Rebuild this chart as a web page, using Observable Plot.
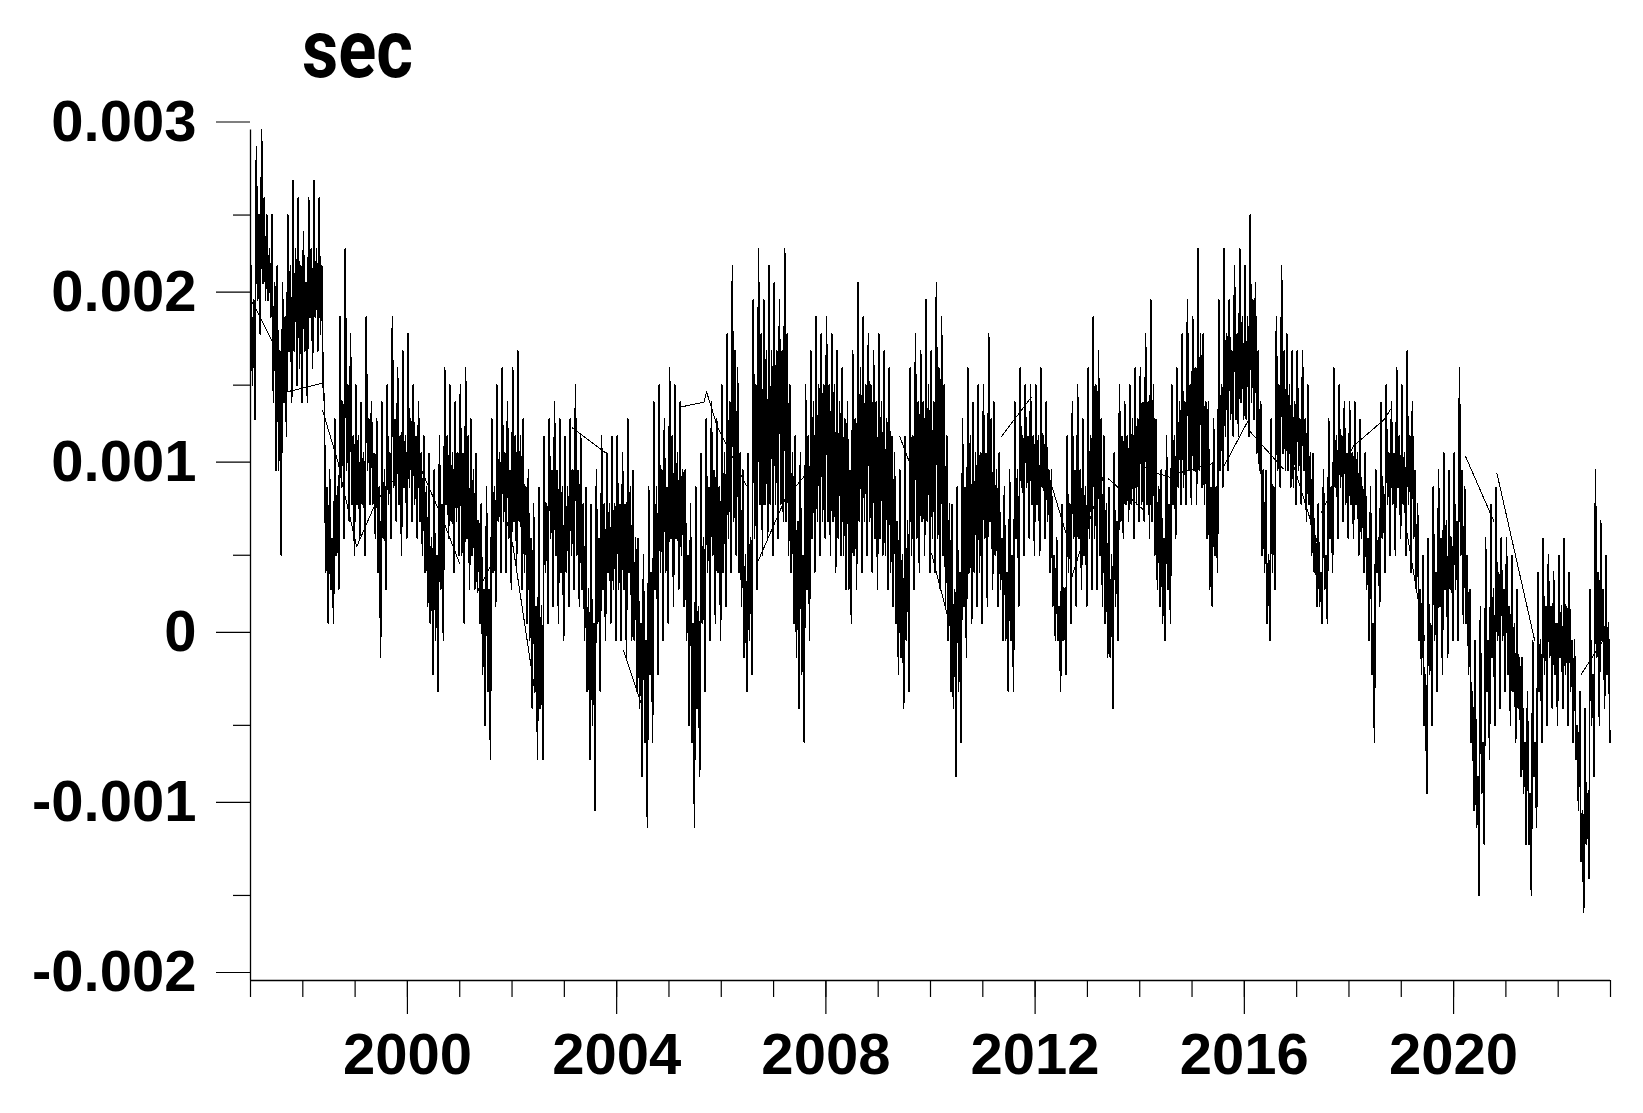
<!DOCTYPE html>
<html><head><meta charset="utf-8">
<script src="https://cdn.jsdelivr.net/npm/d3@7"></script>
<script src="https://cdn.jsdelivr.net/npm/@observablehq/plot@0.6"></script>
<style>
html,body{margin:0;padding:0;background:#fff;}
#wrap{position:relative;width:1643px;height:1113px;overflow:hidden;}
#title{position:absolute;left:302px;top:1px;font-family:Roboto,"Liberation Sans",sans-serif;font-weight:bold;font-size:82px;line-height:normal;color:#000;transform-origin:0 0;transform:scaleX(0.86);white-space:nowrap;}
#wrap svg .data path, #wrap svg .joins path{shape-rendering:crispEdges;}
</style></head><body><div id="wrap"><div id="title">sec</div></div>
<script>
// time grid of the readings: four readings per tenth of a year
const startYear = 1997;
const stepYears = 0.1;
// values in units of 1e-4 sec, 10 per year (1997 ... 2022)
// highest spike in each tenth of a year
const highs = [
 22,29,30,25,25,22,21,25,27,26,
 24,26,27,26,14,10,13,19,23,18,
 15,14,19,14,13,14,15,19,16,17,
 18,15,14,12,11,10,12,16,15,14,
 15,16,13,11,8,9,13,15,16,14,
 16,17,13,10,8,9,12,13,14,13,
 12,13,15,12,9,8,10,12,11,12,
 12,11,13,10,6,5,9,14,15,13,
 16,15,14,10,8,9,11,13,14,13,
 15,18,22,16,10,11,20,23,20,22,
 21,20,23,15,12,11,15,17,19,18,
 19,18,17,16,14,17,21,19,18,17,
 18,17,16,11,10,12,16,18,17,20,
 17,21,19,12,8,9,13,16,14,15,
 15,18,14,11,9,10,14,16,15,15,
 15,16,14,10,6,8,12,14,15,13,
 16,19,17,12,9,11,15,14,15,16,
 16,18,20,13,10,12,15,16,18,20,
 19,23,18,14,13,20,23,20,22,23,
 22,25,21,14,10,13,19,22,18,17,
 17,17,15,11,8,10,13,16,15,14,
 14,14,13,11,9,10,14,15,14,16,
 15,17,14,8,5,6,9,10,11,10,
 11,16,9,3,0,2,6,8,9,6,
 6,5,3,-1,-3,0,4,6,5,4,
 5,6,4,0,-3,-4,3,10,7,5
];
// lowest spike in each tenth of a year
const lows = [
 13,18,20,19,10,5,12,14,15,14,
 14,16,17,15,1,1,3,6,7,5,
 6,5,8,6,-1,3,6,7,5,6,
 7,6,5,2,-2,-3,0,6,4,5,
 1,3,3,1,-5,-7,2,4,4,3,
 4,3,1,-4,-7,-7,1,2,1,0,
 2,3,2,0,-7,-10,-3,0,1,0,
 0,-1,0,-3,-8,-11,-6,-2,0,1,
 2,3,2,-5,-11,-8,-3,0,1,0,
 2,4,5,2,-3,-2,3,5,6,5,
 6,7,5,1,-4,-6,0,4,5,6,
 5,4,5,3,1,3,4,5,4,3,
 5,3,2,-2,-4,-3,3,4,5,4,
 4,3,2,-3,-8,-6,-1,1,2,1,
 2,3,2,0,-3,-3,2,5,6,5,
 5,6,4,0,-3,-2,1,2,3,2,
 3,3,2,-1,-4,0,6,7,6,7,
 7,6,5,2,0,1,6,8,8,8,
 8,9,6,2,4,9,10,12,12,13,
 12,13,10,4,0,3,9,10,9,8,
 8,7,5,2,1,1,4,6,7,6,
 6,5,4,0,-6,2,4,5,5,6,
 5,4,3,-2,-9,-5,-3,-2,-1,0,
 0,1,-2,-10,-15,-12,-7,-5,-4,-3,
 -5,-6,-8,-12,-15,-11,-6,-5,-4,-5,
 -4,-5,-6,-10,-16,-14,-8,-5,-4,-6
];
// top of the dense band in each tenth of a year
const coreHighs = [
 20,25,26,23,21,17,19,22,23,22,
 21,23,23,22,9,6,9,14,15,12,
 12,11,13,11,9,10,11,13,12,12,
 13,12,11,9,6,5,8,12,11,11,
 11,12,10,7,3,3,9,11,11,10,
 12,12,9,6,2,2,8,10,10,9,
 9,10,10,8,3,1,6,8,8,8,
 8,8,9,6,1,0,4,9,10,9,
 12,11,10,5,1,2,6,9,10,9,
 11,14,17,11,5,6,15,18,17,17,
 17,17,18,11,7,5,12,14,15,15,
 15,15,14,13,10,13,16,15,15,14,
 14,13,12,7,5,7,12,14,14,15,
 14,16,15,8,3,4,9,12,11,11,
 11,13,10,6,4,5,10,12,12,12,
 12,12,10,5,2,3,8,10,10,9,
 12,15,13,8,5,7,12,12,13,13,
 14,14,15,9,6,8,12,14,14,15,
 16,18,14,9,9,15,18,17,18,19,
 19,20,17,10,5,9,15,17,15,14,
 13,13,11,6,4,5,9,12,12,11,
 11,11,9,6,1,6,9,11,11,12,
 11,12,10,3,-2,1,4,6,7,6,
 7,10,5,-3,-8,-6,0,3,4,3,
 2,1,-1,-6,-9,-6,0,2,2,1,
 2,2,0,-5,-10,-9,-2,4,3,1
];
// bottom of the dense band in each tenth of a year
const coreLows = [
 15,20,21,20,14,10,14,17,17,16,
 17,19,19,18,4,3,5,9,10,8,
 8,8,10,8,4,6,8,9,8,9,
 9,8,7,4,1,0,3,8,7,7,
 5,6,5,3,-2,-3,4,7,7,6,
 7,7,4,0,-3,-4,4,6,5,4,
 4,5,5,3,-3,-5,1,3,4,3,
 3,3,4,0,-4,-6,-2,3,4,4,
 6,6,5,0,-6,-4,1,4,5,4,
 4,6,7,4,-1,0,6,8,8,8,
 8,8,7,4,-1,-2,3,6,7,7,
 7,7,6,5,3,5,7,7,7,6,
 6,5,4,1,-1,0,5,6,7,7,
 6,6,5,0,-4,-3,2,4,4,4,
 6,7,5,3,0,0,6,9,9,8,
 8,9,7,2,0,0,4,6,6,5,
 6,6,5,1,-1,2,7,8,8,8,
 8,8,7,3,1,3,8,9,9,10,
 10,10,8,3,5,10,12,13,13,14,
 13,14,11,5,1,4,10,11,10,9,
 10,10,8,4,2,3,6,9,9,8,
 8,8,6,3,-2,4,6,8,8,9,
 8,8,6,0,-5,-2,0,2,3,3,
 3,5,1,-6,-11,-9,-3,-1,0,0,
 -2,-3,-4,-9,-12,-8,-3,-2,-1,-2,
 -1,-2,-3,-7,-13,-12,-5,-1,0,-2
];
// thin straight joins across data gaps (segment id, year, value in 1e-4 sec)
const joinSeg = [0,0,0,0,0,0, 1,1,1,1,1,1, 2,2,2,2,2, 3,3, 4,4,4, 5,5, 6,6, 7,7,7,7,7, 8,8,8, 9,9, 10,10,10, 11,11, 12,12, 13,13, 14,14, 15,15,15, 16,16, 17,17, 18,18, 19,19, 20,20, 21,21,21,21, 22,22, 23,23, 24,24, 25,25];
const joinYear = [1997.01,1997.17,1997.44,1997.57,1997.69,1998.36, 1998.38,1998.68,1998.77,1999.03,1999.41,1999.73, 1999.73,1999.92,2000.24,2000.65,2001.0, 2001.33,2001.64, 2001.9,2002.02,2002.44, 2003.15,2003.8, 2004.13,2004.48, 2005.2,2005.67,2005.72,2005.92,2006.48, 2006.71,2007.22,2007.63, 2009.41,2009.63, 2010.02,2010.47,2010.78, 2011.36,2011.93, 2012.15,2012.6, 2012.69,2013.33, 2013.4,2014.06, 2014.09,2014.35,2014.67, 2014.71,2015.4, 2015.62,2016.07, 2016.1,2016.74, 2016.77,2017.44, 2017.47,2017.66, 2017.82,2018.08,2018.68,2018.8, 2019.1,2019.45, 2020.23,2020.77, 2020.83,2021.55, 2022.44,2022.9];
const joinValue = [20.0,19.1,17.4,16.9,14.6,15.1, 13.5,10.4,9.0,5.5,8.2,9.4, 11.5,11.0,10.2,7.3,4.5, 2.8,4.7, 7.0,5.5,-3.1, 12.5,11.0, -0.6,-3.8, 13.7,14.0,14.6,12.6,9.1, 4.7,8.3,9.8, 12.0,10.2, 5.1,-0.3,5.0, 12.0,14.3, 10.8,6.2, 3.6,9.9, 9.5,7.7, 10.2,9.8,9.5, 9.8,10.4, 10.3,12.9, 12.3,10.1, 12.0,5.3, 7.5,8.7, 9.8,11.4,13.0,13.6, 6.5,0.0, 10.8,7.0, 9.8,0.0, -2.0,0.2];

const yTickValues = [-0.002,-0.001,0,0.001,0.002,0.003];
const yTickLabels = ["-0.002","-0.001","0","0.001","0.002","0.003"];
const yMinorTicks = [-0.0015,-0.0005,0.0005,0.0015,0.0025];
const xLabelYears = [2000,2004,2008,2012,2016,2020];
const xYearTicks = d3.range(1997, 2024);

const unit = 1e-4;
const series = [];
highs.forEach((h, i) => {
  const t0 = startYear + i * stepYears;
  series.push({t: t0 + stepYears * 0.125, v: h * unit});
  series.push({t: t0 + stepYears * 0.375, v: coreLows[i] * unit});
  series.push({t: t0 + stepYears * 0.625, v: coreHighs[i] * unit});
  series.push({t: t0 + stepYears * 0.875, v: lows[i] * unit});
});
const joins = joinYear.map((t, i) => ({t, v: joinValue[i] * unit, seg: joinSeg[i]}));

const font = "'Liberation Sans', Arial, sans-serif";
const chart = Plot.plot({
  width: 1643, height: 1113,
  marginLeft: 250, marginRight: 33, marginTop: 129.5, marginBottom: 133,
  x: {domain: [1997, 2023], label: null},
  y: {domain: [-0.002, 0.003], label: null},
  style: {background: "transparent", color: "#000", fontFamily: font, overflow: "visible"},
  marks: [
    Plot.line(series, {x: "t", y: "v", stroke: "#000", strokeWidth: 1.6, className: "data"}),
    Plot.line(joins, {x: "t", y: "v", z: "seg", stroke: "#000", strokeWidth: 1, className: "joins"}),
    Plot.ruleX([1997], {y1: -0.002, y2: 0.003, stroke: "#000", strokeWidth: 1.3}),
    Plot.ruleY([-0.002], {x1: 1997, x2: 2023, stroke: "#000", strokeWidth: 1.3}),
    Plot.axisY(yTickValues, {tickSize: 34, tickPadding: 20, tickFormat: d => yTickLabels[yTickValues.indexOf(d)], fontSize: 58, fontWeight: "bold", dy: -8, label: null, strokeWidth: 1.2}),
    Plot.axisY(yMinorTicks, {tickSize: 17, tickFormat: () => "", label: null, strokeWidth: 1.2}),
    Plot.axisX(xLabelYears, {tickSize: 34, tickPadding: 18, tickFormat: d => String(d), fontSize: 58, fontWeight: "bold", label: null, strokeWidth: 1.2}),
    Plot.axisX(xYearTicks, {tickSize: 17, tickFormat: () => "", label: null, strokeWidth: 1.2})
  ]
});
document.getElementById("wrap").appendChild(chart);
</script></body></html>
